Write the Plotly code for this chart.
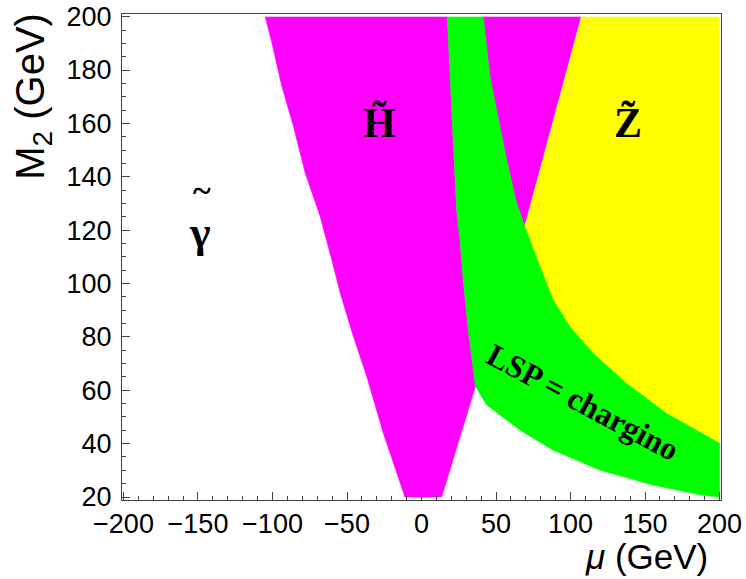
import plotly.graph_objects as go

# ---- region boundaries (mu, M2) ----
# Higgsino region, left edge (top -> bottom)
hino_left_mu = [-104.9, -100.4, -93.7, -85.9, -78.1, -68.0, -60.2, -54.6, -45.7, -36.7, -25.6, -11.1]
hino_left_m2 = [200, 190.2, 173.8, 158.8, 141.5, 125.1, 108.9, 96.5, 80.1, 65.1, 43.9, 20]
# Higgsino lower tip, right edge (bottom -> kink)
hino_tip_mu = [13.5, 36.2]
hino_tip_m2 = [20, 61.5]
# chargino band, left edge (kink -> top)
chg_left_mu = [36.2, 31.4, 28.0, 25.8, 23.6, 21.3, 19.1, 17.3]
chg_left_m2 = [61.5, 82.6, 101.4, 116.4, 127.6, 152.7, 177.6, 200]
# chargino band, lower edge (kink -> right)
chg_low_mu = [36.2, 43.7, 66.0, 88.1, 119.6, 155.1, 188.6, 200]
chg_low_m2 = [61.5, 54.5, 45.1, 37.6, 30.1, 24.5, 20.7, 20]
# chargino band, right edge against Higgsino wedge (top -> tip)
chg_right_mu = [41.4, 45.9, 51.5, 57.1, 63.8, 69.3]
chg_right_m2 = [200, 177.6, 161.4, 146.4, 130.1, 121.4]
# chargino / zino boundary (tip -> right)
zino_low_mu = [69.3, 79.4, 88.3, 99.5, 115.1, 137.5, 164.3, 200]
zino_low_m2 = [121.4, 106.4, 93.9, 83.9, 73.9, 62.6, 51.4, 40.1]
# zino left edge (top -> tip)
zino_left_mu = [107.3, 69.3]
zino_left_m2 = [200, 121.4]

x_range = [-201, 201]
y_range = [18.875, 201]
x_ticks = [-200, -150, -100, -50, 0, 50, 100, 150, 200]
y_ticks = [20, 40, 60, 80, 100, 120, 140, 160, 180, 200]

labels_text = ["<b>γ</b>", "<b>H\u0303</b>", "<b>Z\u0303</b>"]
labels_mu = [-148.4, -28.5, 138.4]
labels_m2 = [119.0, 160.2, 160.2]

MAG = "#FF00FF"
GRN = "#00FF00"
YEL = "#FFFF00"

def poly(xs, ys, color):
    return go.Scatter(x=xs, y=ys, mode="lines", fill="toself", fillcolor=color,
                      line=dict(color=color, width=0.6), hoverinfo="skip", showlegend=False)

fig = go.Figure()

# Higgsino (left) region
hx = hino_left_mu + hino_tip_mu + chg_left_mu[1:]
hy = hino_left_m2 + hino_tip_m2 + chg_left_m2[1:]
fig.add_trace(poly(hx, hy, MAG))

# Higgsino wedge between chargino band and zino
wx = chg_right_mu + zino_left_mu[::-1][1:]
wy = chg_right_m2 + zino_left_m2[::-1][1:]
fig.add_trace(poly(wx, wy, MAG))

# Zino region
zx = zino_left_mu + zino_low_mu[1:] + [200]
zy = zino_left_m2 + zino_low_m2[1:] + [200]
fig.add_trace(poly(zx, zy, YEL))

# chargino band
gx = chg_left_mu[::-1] + chg_low_mu[1:] + zino_low_mu[::-1] + chg_right_mu[::-1][1:]
gy = chg_left_m2[::-1] + chg_low_m2[1:] + zino_low_m2[::-1] + chg_right_m2[::-1][1:]
fig.add_trace(poly(gx, gy, GRN))

serif = "Liberation Serif, Times New Roman, serif"
sans = "Liberation Sans, Arial, Helvetica, sans-serif"

sizes = [44, 42, 42]
for t, xm, ym, s in zip(labels_text, labels_mu, labels_m2, sizes):
    fig.add_annotation(x=xm, y=ym, text=t, showarrow=False,
                       font=dict(family=serif, size=s, color="black"))
# tilde over gamma
fig.add_annotation(x=-147.0, y=135.0, text="<b>~</b>", showarrow=False,
                   font=dict(family=serif, size=34, color="black"))

fig.add_annotation(x=108.2, y=55.6, text="<b>LSP = chargino</b>", showarrow=False,
                   textangle=28, font=dict(family=serif, size=32, color="black"))

# axis titles
fig.add_annotation(xref="paper", yref="paper", x=0.876, y=-0.117, text="<i>μ</i> (GeV)",
                   showarrow=False, xanchor="center", yanchor="middle",
                   font=dict(family=sans, size=35, color="black"))
fig.add_annotation(xref="paper", yref="paper", x=-0.15, y=0.83, text="M<sub>2</sub> (GeV)",
                   showarrow=False, xanchor="center", yanchor="middle", textangle=-90,
                   font=dict(family=sans, size=40, color="black"))

axis_common = dict(showgrid=False, zeroline=False, showline=True, linecolor="#444444",
                   linewidth=1, mirror=True, ticks="inside", ticklen=8, tickcolor="#444444",
                   automargin=False,
                   tickfont=dict(family=sans, size=27, color="black"))

fig.update_xaxes(range=x_range, tickvals=x_ticks, ticktext=[f"{v}".replace("-", "\u2212") for v in x_ticks],
                 minor=dict(dtick=10, ticklen=4, ticks="inside", tickcolor="#444444"),
                 **axis_common)
fig.update_yaxes(range=y_range, tickvals=y_ticks, ticklabelstandoff=4,
                 minor=dict(dtick=5, ticklen=4, ticks="inside", tickcolor="#444444"),
                 **axis_common)

fig.update_layout(width=746, height=579, margin=dict(l=122, r=25, t=14, b=79),
                  plot_bgcolor="white", paper_bgcolor="white")

fig.write_html("out.html", config={"displayModeBar": False},
               post_script="document.body.style.margin='0';document.body.style.padding='0';")
